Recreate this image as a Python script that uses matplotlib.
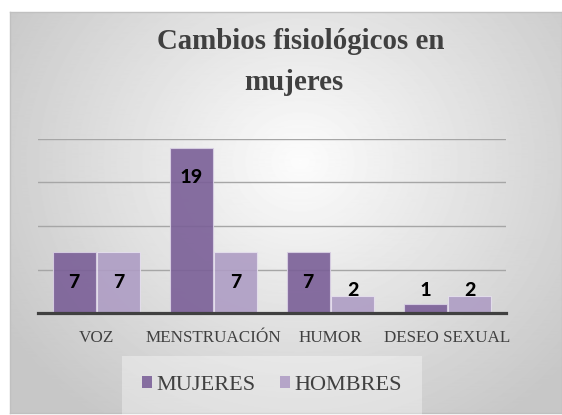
import matplotlib
matplotlib.use("Agg")
import matplotlib.pyplot as plt
import numpy as np
from matplotlib.patches import Patch

# data
categorias = ["VOZ", "MENSTRUACIÓN", "HUMOR", "DESEO SEXUAL"]
mujeres = [7, 19, 7, 1]
hombres = [7, 7, 2, 2]
series = ["MUJERES", "HOMBRES"]
titulo = ["Cambios fisiológicos en", "mujeres"]

fig = plt.figure(figsize=(5.62, 4.15), dpi=100)
fig.patch.set_facecolor("white")

# chart area with radial gradient
bg = fig.add_axes([10/562, 2/415, 552/562, 401/415], zorder=0)
yy, xx = np.mgrid[0:401, 0:552]
r = np.sqrt(((xx - 290) / 330.0) ** 2 + ((yy - 150) / 300.0) ** 2)
g = np.clip(0.99 - 0.2 * r, 0.78, 1.0)
bg.imshow(g, cmap="gray", vmin=0, vmax=1, aspect="auto", extent=[0, 1, 0, 1])
bg.set_xticks([])
bg.set_yticks([])
for s in bg.spines.values():
    s.set_color("#c0c0c0")
    s.set_linewidth(1)

ax = fig.add_axes([38/562, (415-313)/415, 468/562, 174/415], zorder=1)
ax.patch.set_alpha(0)

x = np.arange(len(categorias))
w = 0.365
b1 = ax.bar(x - w/2 - 0.008, mujeres, w, color="#7a5f97", alpha=0.9,
            edgecolor="#d9d0e4", linewidth=0.8, zorder=3)
b2 = ax.bar(x + w/2 + 0.008, hombres, w, color="#ae9dc4", alpha=0.9,
            edgecolor="#e6e0ee", linewidth=0.8, zorder=3)

for bars, vals in [(b1, mujeres), (b2, hombres)]:
    for rect, v in zip(bars, vals):
        ypos = max(v - 3.4, 2.7)
        ax.text(rect.get_x() + rect.get_width()/2, ypos, str(v),
                ha="center", va="center", fontsize=16, fontweight="bold",
                family="Carlito", color="black", zorder=4)

ax.set_xlim(-0.5, len(categorias) - 0.5)
ax.set_ylim(0, 20)
ax.set_yticks([5, 10, 15, 20])
ax.yaxis.grid(True, color="#a6a6a6", linewidth=1)
ax.set_axisbelow(True)
ax.tick_params(axis="y", length=0, labelleft=False)
ax.set_xticks(x)
ax.set_xticklabels(categorias, family="Liberation Serif", fontsize=12.3,
                   color="#404040")
ax.tick_params(axis="x", length=0, pad=12)
for k in ["left", "right", "top"]:
    ax.spines[k].set_visible(False)
ax.spines["bottom"].set_color("#404040")
ax.spines["bottom"].set_linewidth(2.3)
ax.spines["bottom"].set_zorder(5)

fig.text(301/562, 1 - 49/415, titulo[0], ha="center", va="baseline", fontsize=20.8,
         fontweight="bold", family="Liberation Serif", color="#404040")
fig.text(294/562, 1 - 90/415, titulo[1], ha="center", va="baseline", fontsize=20.8,
         fontweight="bold", family="Liberation Serif", color="#404040")

handles = [Patch(facecolor="#866ea0", edgecolor="none"),
           Patch(facecolor="#b5a5c8", edgecolor="none")]
leg = fig.legend(handles, series, loc="center", bbox_to_anchor=(272/562, 1 - 385/415),
                 ncol=2, frameon=True, prop={"family": "Liberation Serif", "size": 16},
                 handlelength=0.45, handleheight=0.45, handletextpad=0.2,
                 columnspacing=1.1, borderpad=0.6, borderaxespad=0)
leg.get_frame().set_facecolor("white")
leg.get_frame().set_alpha(0.35)
leg.get_frame().set_edgecolor("none")
leg.get_frame().set_boxstyle("square", pad=0.3)
for t in leg.get_texts():
    t.set_color("#404040")

fig.savefig("out.png", dpi=100)
